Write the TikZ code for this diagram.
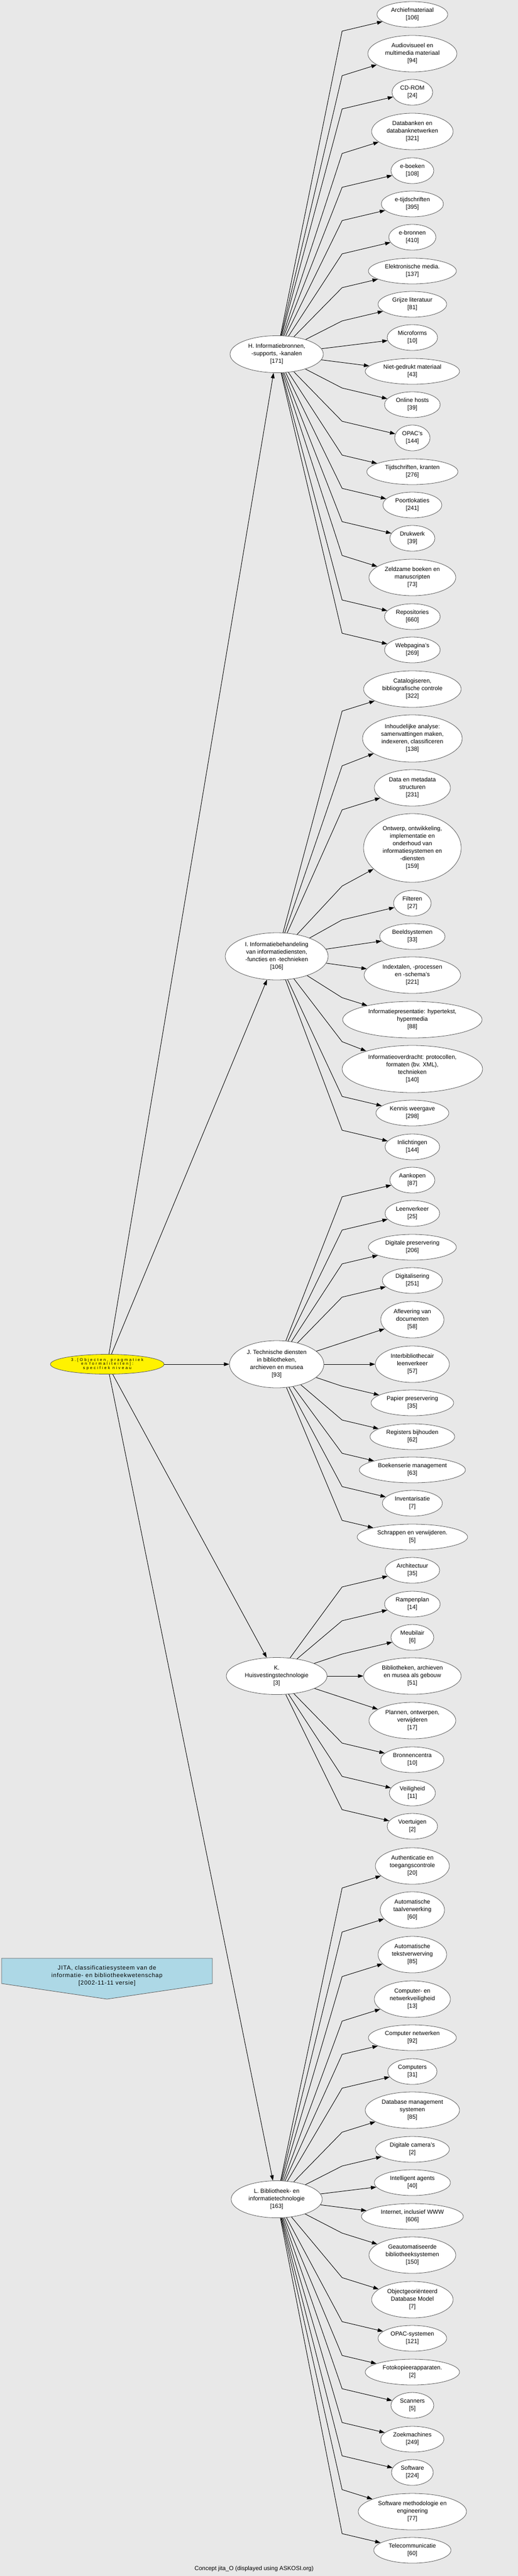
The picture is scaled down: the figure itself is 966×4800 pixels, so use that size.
\documentclass[tikz,border=0pt]{standalone}
\usepackage{fontspec}
\setmainfont{Liberation Sans}
\newfontfamily\spacedfont[LetterSpace=35]{Liberation Sans}
\newfontfamily\legendfam[LetterSpace=7]{Liberation Sans}
\usetikzlibrary{shapes.geometric,arrows.meta}
\definecolor{bgcol}{RGB}{232,232,232}
\definecolor{bordercol}{RGB}{90,90,90}
\definecolor{legendblue}{RGB}{173,216,230}
\newcommand\bracketnum[1]{[#1]}
\newcommand\leaffont{\fontsize{11}{14}\selectfont}
\newcommand\rootfont{\spacedfont\fontsize{7.5}{7.8}\selectfont}
\newcommand\legendfont{\legendfam\fontsize{11}{14}\selectfont}
\begin{document}
\begin{tikzpicture}[x=1pt,y=-1pt,
  leaf/.style 2 args={draw=bordercol, line width=0.8pt, fill=white, ellipse, inner sep=0pt,
    minimum width=#1pt, minimum height=#2pt, align=center, font=\leaffont},
  rootnode/.style={draw=bordercol, line width=0.8pt, fill=yellow, ellipse, inner sep=0pt,
    minimum width=212pt, minimum height=37pt, align=center, font=\rootfont},
  edge/.style={draw=black, line width=0.9pt, line join=round,
    -{Triangle[length=10pt,width=7pt]}}]
\useasboundingbox (0,0) rectangle (966,4800);
\fill[bgcol] (0,0) rectangle (966,4800);

% root
\node[rootnode] (root) at (200,2542) {3.[Objecten, pragmatiek\\en formaliteiten]:\\specifiek niveau};

% hubs
\node[leaf={174}{69}] (H) at (516,660) {H. Informatiebronnen,\\-supports, -kanalen\\\bracketnum{171}};
\node[leaf={192}{88}] (I) at (516,1782) {I. Informatiebehandeling\\van informatiediensten,\\-functies en -technieken\\\bracketnum{106}};
\node[leaf={176}{88}] (J) at (516,2542) {J. Technische diensten\\in bibliotheken,\\archieven en musea\\\bracketnum{93}};
\node[leaf={188}{69}] (K) at (516,3123) {K.\\Huisvestingstechnologie\\\bracketnum{3}};
\node[leaf={170}{69}] (L) at (516,4098) {L. Bibliotheek- en\\informatietechnologie\\\bracketnum{163}};

% H children
\node[leaf={132}{48}] (h1) at (769,27) {Archiefmateriaal\\\bracketnum{106}};
\node[leaf={166}{68}] (h2) at (769,100) {Audiovisueel en\\multimedia materiaal\\\bracketnum{94}};
\node[leaf={76}{48}] (h3) at (769,172) {CD-ROM\\\bracketnum{24}};
\node[leaf={152}{68}] (h4) at (769,245) {Databanken en\\databanknetwerken\\\bracketnum{321}};
\node[leaf={80}{48}] (h5) at (769,318) {e-boeken\\\bracketnum{108}};
\node[leaf={116}{48}] (h6) at (769,380) {e-tijdschriften\\\bracketnum{395}};
\node[leaf={88}{48}] (h7) at (769,442) {e-bronnen\\\bracketnum{410}};
\node[leaf={164}{48}] (h8) at (769,505) {Elektronische media.\\\bracketnum{137}};
\node[leaf={128}{48}] (h9) at (769,567) {Grijze literatuur\\\bracketnum{81}};
\node[leaf={94}{48}] (h10) at (769,629) {Microforms\\\bracketnum{10}};
\node[leaf={176}{48}] (h11) at (769,692) {Niet-gedrukt materiaal\\\bracketnum{43}};
\node[leaf={104}{48}] (h12) at (769,754) {Online hosts\\\bracketnum{39}};
\node[leaf={66}{48}] (h13) at (769,816) {OPAC's\\\bracketnum{144}};
\node[leaf={170}{48}] (h14) at (769,879) {Tijdschriften, kranten\\\bracketnum{276}};
\node[leaf={110}{48}] (h15) at (769,941) {Poortlokaties\\\bracketnum{241}};
\node[leaf={84}{48}] (h16) at (769,1003) {Drukwerk\\\bracketnum{39}};
\node[leaf={162}{68}] (h17) at (769,1076) {Zeldzame boeken en\\manuscripten\\\bracketnum{73}};
\node[leaf={104}{48}] (h18) at (769,1149) {Repositories\\\bracketnum{660}};
\node[leaf={104}{48}] (h19) at (769,1211) {Webpagina's\\\bracketnum{269}};

% I children
\node[leaf={182}{68}] (i1) at (769,1284) {Catalogiseren,\\bibliografische controle\\\bracketnum{322}};
\node[leaf={186}{88}] (i2) at (769,1376) {Inhoudelijke analyse:\\samenvattingen maken,\\indexeren, classificeren\\\bracketnum{138}};
\node[leaf={142}{68}] (i3) at (769,1468) {Data en metadata\\structuren\\\bracketnum{231}};
\node[leaf={182}{128}] (i4) at (769,1580) {Ontwerp, ontwikkeling,\\implementatie en\\onderhoud van\\informatiesystemen en\\-diensten\\\bracketnum{159}};
\node[leaf={70}{48}] (i5) at (769,1683) {Filteren\\\bracketnum{27}};
\node[leaf={122}{48}] (i6) at (769,1745) {Beeldsystemen\\\bracketnum{33}};
\node[leaf={180}{68}] (i7) at (769,1817) {Indextalen, -processen\\en -schema's\\\bracketnum{221}};
\node[leaf={260}{68}] (i8) at (769,1900) {Informatiepresentatie: hypertekst,\\hypermedia\\\bracketnum{88}};
\node[leaf={262}{88}] (i9) at (769,1992) {Informatieoverdracht: protocollen,\\formaten (bv. XML),\\technieken\\\bracketnum{140}};
\node[leaf={136}{48}] (i10) at (769,2074) {Kennis weergave\\\bracketnum{298}};
\node[leaf={102}{48}] (i11) at (769,2137) {Inlichtingen\\\bracketnum{144}};

% J children
\node[leaf={84}{48}] (j1) at (769,2199) {Aankopen\\\bracketnum{87}};
\node[leaf={102}{48}] (j2) at (769,2261) {Leenverkeer\\\bracketnum{25}};
\node[leaf={164}{48}] (j3) at (769,2324) {Digitale preservering\\\bracketnum{206}};
\node[leaf={112}{48}] (j4) at (769,2386) {Digitalisering\\\bracketnum{251}};
\node[leaf={118}{68}] (j5) at (769,2459) {Aflevering van\\documenten\\\bracketnum{58}};
\node[leaf={138}{68}] (j6) at (769,2542) {Interbibliothecair\\leenverkeer\\\bracketnum{57}};
\node[leaf={154}{48}] (j7) at (769,2614) {Papier preservering\\\bracketnum{35}};
\node[leaf={158}{48}] (j8) at (769,2677) {Registers bijhouden\\\bracketnum{62}};
\node[leaf={198}{48}] (j9) at (769,2739) {Boekenserie management\\\bracketnum{63}};
\node[leaf={112}{48}] (j10) at (769,2801) {Inventarisatie\\\bracketnum{7}};
\node[leaf={206}{48}] (j11) at (769,2864) {Schrappen en verwijderen.\\\bracketnum{5}};

% K children
\node[leaf={102}{48}] (k1) at (769,2926) {Architectuur\\\bracketnum{35}};
\node[leaf={104}{48}] (k2) at (769,2989) {Rampenplan\\\bracketnum{14}};
\node[leaf={80}{48}] (k3) at (769,3051) {Meubilair\\\bracketnum{6}};
\node[leaf={182}{68}] (k4) at (769,3123) {Bibliotheken, archieven\\en musea als gebouw\\\bracketnum{51}};
\node[leaf={162}{68}] (k5) at (769,3206) {Plannen, ontwerpen,\\verwijderen\\\bracketnum{17}};
\node[leaf={118}{48}] (k6) at (769,3279) {Bronnencentra\\\bracketnum{10}};
\node[leaf={86}{48}] (k7) at (769,3341) {Veiligheid\\\bracketnum{11}};
\node[leaf={94}{48}] (k8) at (769,3403) {Voertuigen\\\bracketnum{2}};

% L children
\node[leaf={138}{68}] (l1) at (769,3477) {Authenticatie en\\toegangscontrole\\\bracketnum{20}};
\node[leaf={120}{68}] (l2) at (769,3559) {Automatische\\taalverwerking\\\bracketnum{60}};
\node[leaf={128}{68}] (l3) at (769,3642) {Automatische\\tekstverwerving\\\bracketnum{85}};
\node[leaf={142}{68}] (l4) at (769,3725) {Computer- en\\netwerkveiligheid\\\bracketnum{13}};
\node[leaf={164}{48}] (l5) at (769,3797) {Computer netwerken\\\bracketnum{92}};
\node[leaf={92}{48}] (l6) at (769,3860) {Computers\\\bracketnum{31}};
\node[leaf={176}{68}] (l7) at (769,3932) {Database management\\systemen\\\bracketnum{85}};
\node[leaf={138}{48}] (l8) at (769,4005) {Digitale camera's\\\bracketnum{2}};
\node[leaf={142}{48}] (l9) at (769,4067) {Intelligent agents\\\bracketnum{40}};
\node[leaf={190}{48}] (l10) at (769,4130) {Internet, inclusief WWW\\\bracketnum{606}};
\node[leaf={162}{68}] (l11) at (769,4202) {Geautomatiseerde\\bibliotheeksystemen\\\bracketnum{150}};
\node[leaf={152}{68}] (l12) at (769,4285) {Objectgeoriënteerd\\Database Model\\\bracketnum{7}};
\node[leaf={128}{48}] (l13) at (769,4357) {OPAC-systemen\\\bracketnum{121}};
\node[leaf={176}{48}] (l14) at (769,4420) {Fotokopieerapparaten.\\\bracketnum{2}};
\node[leaf={80}{48}] (l15) at (769,4482) {Scanners\\\bracketnum{5}};
\node[leaf={118}{48}] (l16) at (769,4545) {Zoekmachines\\\bracketnum{249}};
\node[leaf={78}{48}] (l17) at (769,4607) {Software\\\bracketnum{224}};
\node[leaf={202}{68}] (l18) at (769,4680) {Software methodologie en\\engineering\\\bracketnum{77}};
\node[leaf={144}{48}] (l19) at (769,4752) {Telecommunicatie\\\bracketnum{60}};

% root edges
\draw[edge] (root) -- (H);
\draw[edge] (root) -- (I);
\draw[edge] (root) -- (J);
\draw[edge] (root) -- (K);
\draw[edge] (root) -- (L);

% hub -> child edges with a bend
\foreach \c/\b in {h1/58,h2/141,h3/203,h4/286,h5/349,h6/411,h7/473,h8/536,h9/598,
                   h12/723,h13/785,h14/848,h15/910,h16/972,h17/1035,h18/1118,h19/1180}
  \draw[edge] (H) -- (638,\b) -- (\c);
\foreach \c in {h10,h11} \draw[edge] (H) -- (\c);

\foreach \c/\b in {i1/1325,i2/1427,i3/1509,i4/1651,i5/1714,i8/1859,i9/1941,i10/2043,i11/2106}
  \draw[edge] (I) -- (638,\b) -- (\c);
\foreach \c in {i6,i7} \draw[edge] (I) -- (\c);

\foreach \c/\b in {j1/2230,j2/2292,j3/2355,j4/2417,j7/2583,j8/2646,j9/2708,j10/2770,j11/2833}
  \draw[edge] (J) -- (638,\b) -- (\c);
\foreach \c in {j5,j6} \draw[edge] (J) -- (\c);

\foreach \c/\b in {k1/2957,k2/3020,k3/3082,k6/3248,k7/3310,k8/3372}
  \draw[edge] (K) -- (638,\b) -- (\c);
\foreach \c in {k4,k5} \draw[edge] (K) -- (\c);

\foreach \c/\b in {l1/3518,l2/3600,l3/3683,l4/3766,l5/3828,l6/3891,l7/3973,l8/4036,
                   l11/4161,l12/4244,l13/4326,l14/4389,l15/4451,l16/4514,l17/4576,l18/4639,l19/4721}
  \draw[edge] (L) -- (638,\b) -- (\c);
\foreach \c in {l9,l10} \draw[edge] (L) -- (\c);

% legend box
\draw[bordercol, line width=0.8pt, fill=legendblue]
  (3,3649) -- (396,3649) -- (396,3696) -- (199.5,3725) -- (3,3696) -- cycle;
\node[align=center, font=\legendfont, inner sep=0pt] (legend) at (199.5,3682)
  {JITA, classificatiesysteem van de\\informatie- en bibliotheekwetenschap\\\bracketnum{2002-11-11 versie}};

% caption
\node[anchor=base east, font=\leaffont, inner sep=0pt] (caption) at (585,4789)
  {Concept jita\_O (displayed using ASKOSI.org)};
\end{tikzpicture}
\end{document}
